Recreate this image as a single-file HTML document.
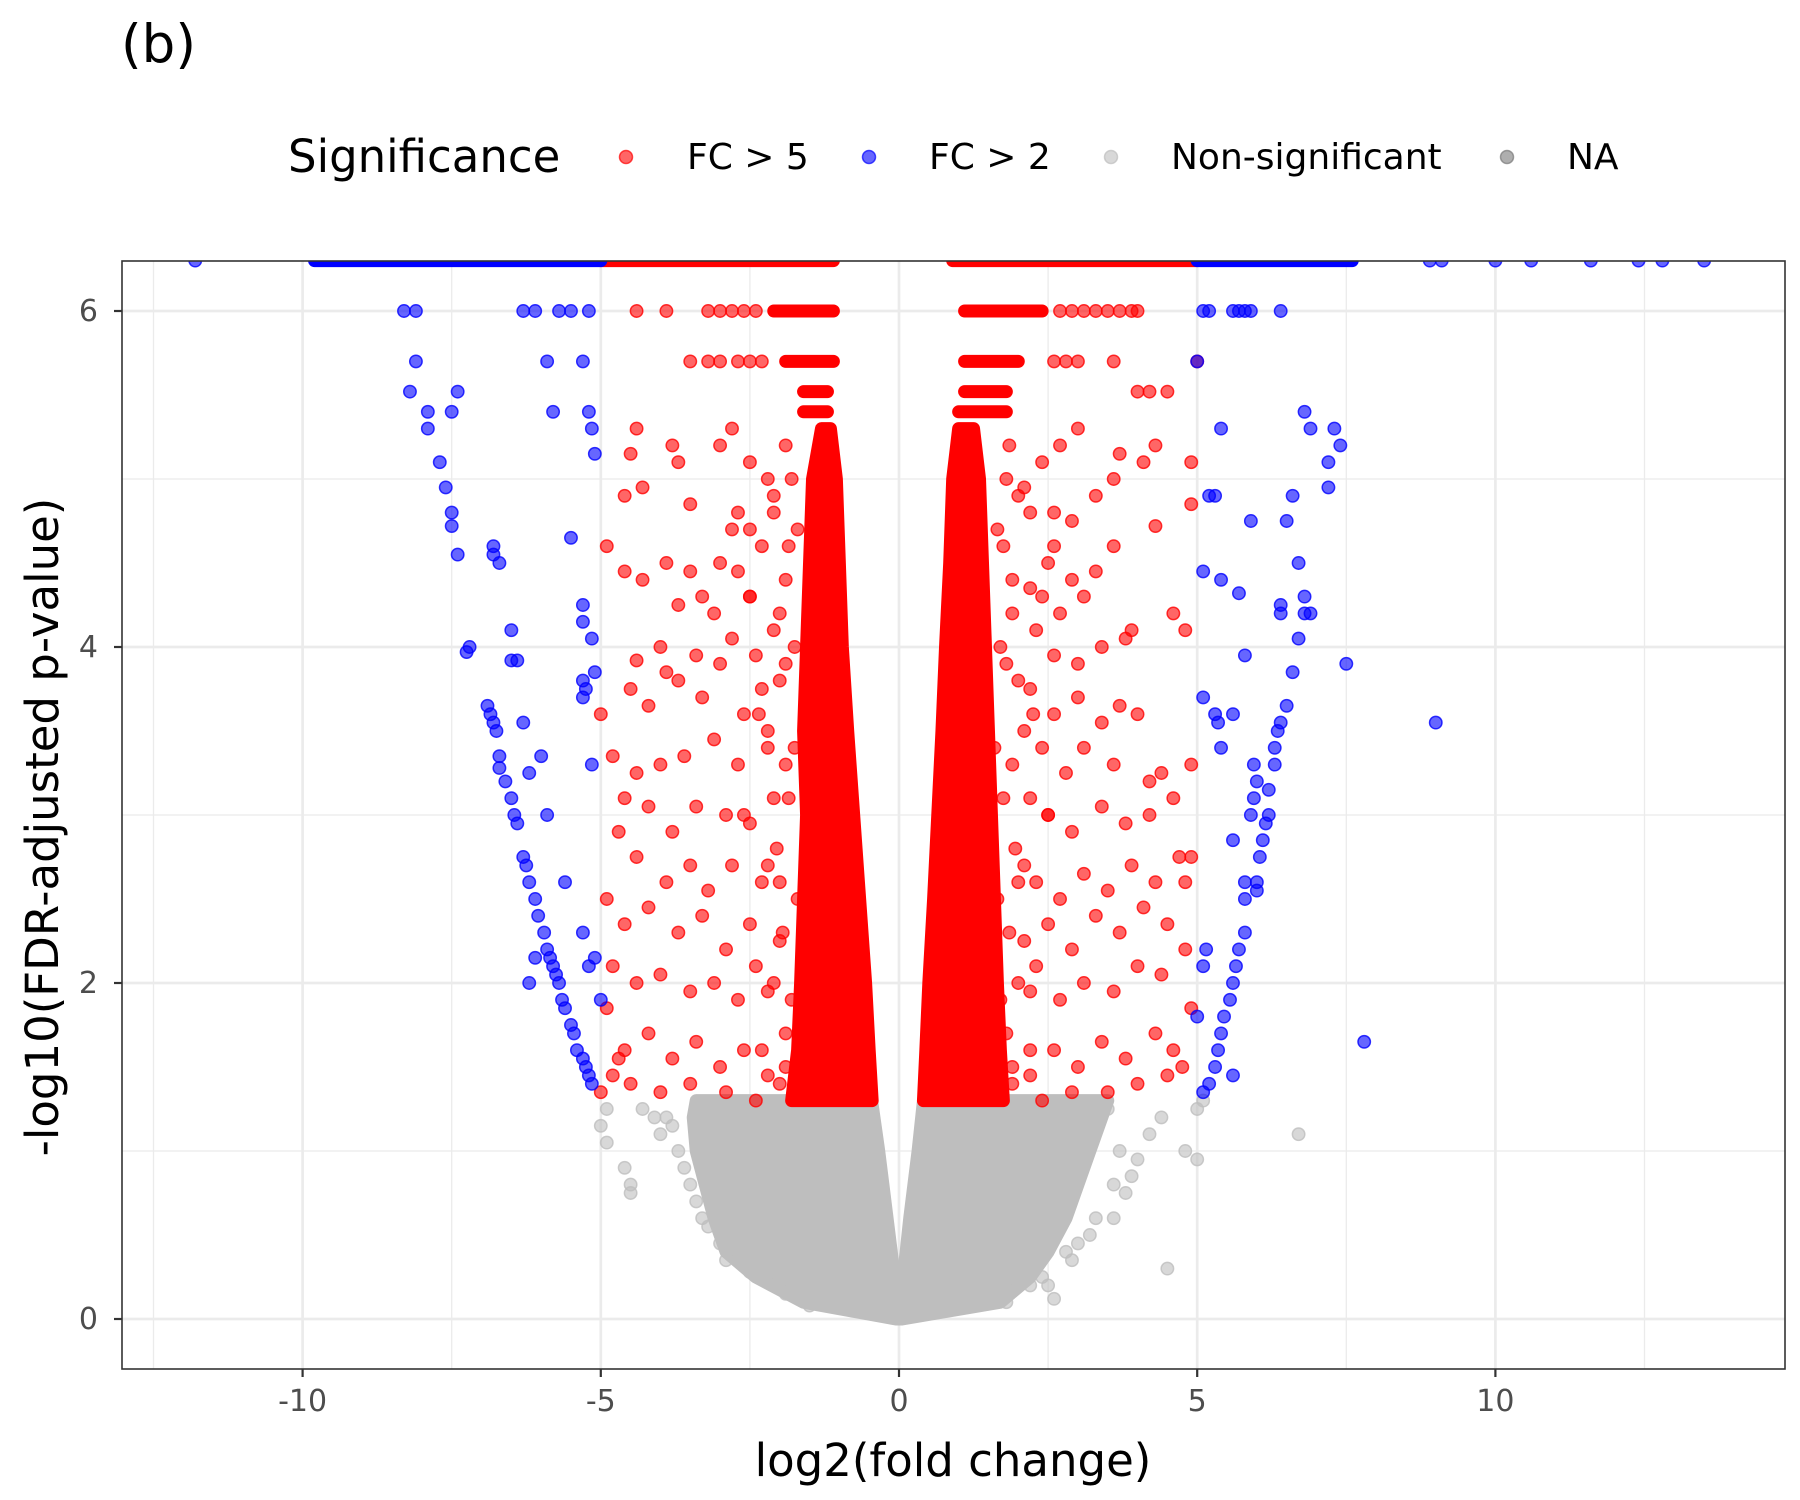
<!DOCTYPE html>
<html><head><meta charset="utf-8"><style>
html,body{margin:0;padding:0;background:#fff;}
svg{display:block;font-family:"DejaVu Sans","Liberation Sans",sans-serif;}
</style></head><body>
<svg id="chart" width="1800" height="1500" viewBox="0 0 1800 1500">
<text x="121" y="62" font-size="53" fill="#000">(b)</text>
<g>
<text x="288" y="172" font-size="45" fill="#000">Significance</text>
<circle cx="626" cy="157" r="6.5" fill="rgba(255,0,0,0.6)" stroke="rgba(255,0,0,0.7)" stroke-width="1.5"/>
<text x="687" y="169" font-size="36" fill="#000">FC &gt; 5</text>
<circle cx="869" cy="157" r="6.5" fill="rgba(0,0,255,0.6)" stroke="rgba(0,0,255,0.7)" stroke-width="1.5"/>
<text x="929" y="169" font-size="36" fill="#000">FC &gt; 2</text>
<circle cx="1111" cy="157" r="6.5" fill="rgba(190,190,190,0.6)" stroke="rgba(190,190,190,0.7)" stroke-width="1.5"/>
<text x="1171" y="169" font-size="36" fill="#000">Non-significant</text>
<circle cx="1507" cy="157" r="6.5" fill="rgba(120,120,120,0.6)" stroke="rgba(120,120,120,0.7)" stroke-width="1.5"/>
<text x="1567" y="169" font-size="36" fill="#000">NA</text>
</g>
<defs><clipPath id="pc"><rect x="122" y="261" width="1663" height="1108"/></clipPath></defs>
<g id="grid"></g>
<g id="marks" clip-path="url(#pc)"></g>
<rect x="122" y="261" width="1663" height="1108" fill="none" stroke="#333" stroke-width="1.6"/>
<g id="axes"></g>
<text x="953" y="1476" font-size="45" text-anchor="middle" fill="#000">log2(fold change)</text>
<text transform="translate(58,827) rotate(-90)" font-size="45" text-anchor="middle" fill="#000">-log10(FDR-adjusted p-value)</text>
</svg>
<script>
const xTicks=[-10,-5,0,5,10];
const xMinor=[-12.5,-7.5,-2.5,2.5,7.5,12.5];
const yTicks=[0,2,4,6];
const yMinor=[1,3,5];
// dense bands (envelopes)
const greyY=[0,0.1,0.25,0.4,0.6,0.8,1.0,1.2,1.3];
const greyLeftOuter=[-0.05,-1.6,-2.4,-2.9,-3.1,-3.25,-3.4,-3.45,-3.4];
const greyLeftInner=[0,-0.03,-0.08,-0.13,-0.2,-0.27,-0.34,-0.42,-0.46];
const greyRightOuter=[0.05,1.7,2.2,2.5,2.8,3.0,3.2,3.4,3.5];
const greyRightInner=[0,0.03,0.07,0.12,0.18,0.25,0.32,0.38,0.41];
const redBandY=[1.3,1.6,2,2.5,3,3.5,4,4.5,5,5.3];
const redLeftOuter=[-1.8,-1.7,-1.65,-1.6,-1.55,-1.6,-1.55,-1.5,-1.45,-1.3];
const redLeftInner=[-0.45,-0.5,-0.56,-0.66,-0.76,-0.86,-0.95,-1.0,-1.05,-1.15];
const redRightOuter=[1.75,1.7,1.65,1.6,1.55,1.5,1.45,1.4,1.35,1.25];
const redRightInner=[0.41,0.45,0.5,0.58,0.65,0.72,0.78,0.85,0.9,1.0];
// quantized rows
const redRowY=[6.3,6.0,5.7,5.52,5.4,6.3,6.0,5.7,5.52,5.4];
const redRowXmin=[-5,-2.1,-1.9,-1.6,-1.6,0.9,1.1,1.1,1.1,1.0];
const redRowXmax=[-1.1,-1.1,-1.1,-1.2,-1.2,5.0,2.4,2.0,1.8,1.8];
const blueRowY=[6.3,6.3];
const blueRowXmin=[-9.8,5.0];
const blueRowXmax=[-5.0,7.6];
const redX=[-4.4,-3.9,-3.2,-3.0,-2.8,-2.6,-2.4,-3.5,-3.2,-3.0,-2.7,-2.5,-2.3,2.7,2.9,3.1,3.3,3.5,3.7,3.9,4.0,2.6,2.8,3.0,3.6,4.0,4.2,4.5,5.0,
-4.4,-4.5,-3.8,-3.7,-3.5,-4.3,-4.6,-3.0,-2.8,-2.5,-2.2,-2.8,-2.5,-2.1,-4.9,-4.6,-4.3,-3.9,-3.5,-3.0,-2.7,-2.3,-3.3,-3.7,-3.1,-2.5,-4.0,-4.4,-3.9,-3.4,-3.0,-2.8,-2.4,-2.1,-4.5,-4.2,-3.7,-3.3,-2.6,-2.3,-5.0,-4.8,-4.4,-4.0,-3.6,-3.1,-2.7,-2.2,-4.6,-4.2,-3.8,-3.4,-2.9,-2.5,-2.1,-4.7,-4.4,-3.9,-3.5,-3.2,-2.8,-2.3,-4.9,-4.6,-4.2,-3.7,-3.3,-2.9,-2.5,-2.0,-4.8,-4.4,-4.0,-3.5,-3.1,-2.7,-2.2,-4.9,-4.6,-4.2,-3.8,-3.4,-3.0,-2.6,-2.2,-4.5,-4.0,-3.5,-2.9,-2.4,-1.9,-2.0,-1.9,-2.0,-1.9,-1.8,-5.0,-4.8,-4.7,
-2.0,-1.9,-2.1,-1.95,-2.05,-1.85,-2.2,-1.9,-2.0,-1.85,-2.1,-1.9,-1.75,-2.3,-2.4,-2.2,-2.6,-2.35,-2.5,-2.7,-1.8,-1.7,-1.75,-1.7,
4.3,4.1,3.7,3.6,3.3,4.9,4.9,3.0,2.7,2.4,2.1,2.9,2.6,2.2,4.3,3.6,3.3,2.9,2.5,2.2,3.1,2.7,3.9,3.8,3.4,3.0,2.6,2.3,4.0,3.7,3.4,3.0,2.6,2.2,4.9,4.4,4.2,3.6,3.1,2.8,2.4,4.6,4.2,3.8,3.4,2.9,2.5,2.2,4.7,4.3,3.9,3.5,3.1,2.7,2.3,4.8,4.5,4.1,3.7,3.3,2.9,2.5,2.1,4.8,4.4,4.0,3.6,3.1,2.7,2.2,4.9,4.6,4.3,3.8,3.4,3.0,2.6,2.2,4.5,4.0,3.5,2.9,2.4,1.9,2.0,1.9,2.0,1.9,1.8,4.75,4.9,4.6,4.8,
1.9,1.8,2.0,1.85,1.95,1.75,2.1,1.8,1.9,1.75,2.0,1.85,1.7,2.2,2.3,2.1,2.5,2.25,2.4,2.6,1.7,1.65,1.6,1.65];
const redY=[6.0,6.0,6.0,6.0,6.0,6.0,6.0,5.7,5.7,5.7,5.7,5.7,5.7,6.0,6.0,6.0,6.0,6.0,6.0,6.0,6.0,5.7,5.7,5.7,5.7,5.52,5.52,5.52,5.7,
5.3,5.15,5.2,5.1,4.85,4.95,4.9,5.2,5.3,5.1,5.0,4.7,4.7,4.8,4.6,4.45,4.4,4.5,4.45,4.5,4.45,4.6,4.3,4.25,4.2,4.3,4.0,3.92,3.85,3.95,3.9,4.05,3.95,4.1,3.75,3.65,3.8,3.7,3.6,3.75,3.6,3.35,3.25,3.3,3.35,3.45,3.3,3.4,3.1,3.05,2.9,3.05,3.0,2.95,3.1,2.9,2.75,2.6,2.7,2.55,2.7,2.6,2.5,2.35,2.45,2.3,2.4,2.2,2.35,2.25,2.1,2.0,2.05,1.95,2.0,1.9,1.95,1.85,1.6,1.7,1.55,1.65,1.5,1.6,1.45,1.4,1.35,1.4,1.35,1.3,1.5,2.6,3.3,3.8,4.4,5.0,1.35,1.45,1.55,
1.4,1.7,2.0,2.3,2.8,3.1,3.5,3.9,4.2,4.6,4.9,5.2,4.0,1.6,2.1,2.7,3.0,3.6,4.3,4.8,1.9,2.5,3.4,4.7,
5.2,5.1,5.15,5.0,4.9,5.1,4.85,5.3,5.2,5.1,4.95,4.75,4.6,4.8,4.72,4.6,4.45,4.4,4.5,4.35,4.3,4.2,4.1,4.05,4.0,3.9,3.95,4.1,3.6,3.65,3.55,3.7,3.6,3.75,3.3,3.25,3.2,3.3,3.4,3.25,3.4,3.1,3.0,2.95,3.05,2.9,3.0,3.1,2.75,2.6,2.7,2.55,2.65,2.5,2.6,2.6,2.35,2.45,2.3,2.4,2.2,2.35,2.25,2.2,2.05,2.1,1.95,2.0,1.9,1.95,1.85,1.6,1.7,1.55,1.65,1.5,1.6,1.45,1.45,1.4,1.35,1.35,1.3,1.5,2.6,3.3,3.8,4.4,5.0,1.5,2.75,4.2,4.1,
1.4,1.7,2.0,2.3,2.8,3.1,3.5,3.9,4.2,4.6,4.9,5.2,4.0,1.6,2.1,2.7,3.0,3.6,4.3,4.8,1.9,2.5,3.4,4.7];
const blueX=[-11.8,8.9,9.1,10.0,10.6,11.6,12.4,12.8,13.5,
-8.3,-8.1,-8.1,-8.2,-7.9,-7.9,-7.5,-7.4,-7.7,-7.6,-7.5,-7.5,-7.4,-6.8,-6.7,-6.8,-6.5,-6.5,-6.4,-7.2,-7.25,-6.9,-6.85,-6.8,-6.75,-6.7,-6.7,-6.6,-6.5,-6.45,-6.4,-6.3,-6.25,-6.2,-6.1,-6.05,-5.95,-5.9,-5.85,-5.8,-5.75,-5.7,-5.65,-5.6,-5.5,-5.45,-5.4,-5.3,-5.25,-5.2,-5.15,-6.2,-6.1,-6.0,-6.3,-6.2,-5.9,-5.6,-5.3,-5.2,-5.1,-5.0,-5.3,-5.3,-5.25,-5.3,-5.3,-5.15,-5.1,-5.15,-5.2,-5.15,-5.1,-5.3,-5.9,-5.8,-5.5,-6.3,-6.1,-5.7,-5.5,-5.2,
5.1,5.2,5.6,5.7,5.8,5.9,6.4,5.0,5.4,5.2,5.3,5.1,5.4,5.7,5.3,5.35,5.6,5.1,5.4,5.8,5.9,6.6,6.5,6.7,6.8,6.8,6.9,6.7,6.4,6.4,6.6,6.5,6.4,6.35,6.3,6.3,6.2,6.2,6.15,6.1,6.05,6.0,6.0,5.95,5.95,5.9,5.8,5.6,5.8,5.8,5.7,5.65,5.6,5.55,5.45,5.4,5.35,5.3,5.2,5.1,5.0,5.15,5.1,5.6,6.0,6.8,6.9,7.3,7.4,7.2,7.2,7.5,9.0,7.8];
const blueY=[6.3,6.3,6.3,6.3,6.3,6.3,6.3,6.3,6.3,
6.0,6.0,5.7,5.52,5.4,5.3,5.4,5.52,5.1,4.95,4.8,4.72,4.55,4.6,4.5,4.55,4.1,3.92,3.92,4.0,3.97,3.65,3.6,3.55,3.5,3.35,3.28,3.2,3.1,3.0,2.95,2.75,2.7,2.6,2.5,2.4,2.3,2.2,2.15,2.1,2.05,2.0,1.9,1.85,1.75,1.7,1.6,1.55,1.5,1.45,1.4,2.0,2.15,3.35,3.55,3.25,3.0,2.6,2.3,2.1,2.15,1.9,3.7,3.8,3.75,4.25,4.15,4.05,3.85,3.3,5.4,5.3,5.15,5.7,5.7,5.4,4.65,6.0,6.0,6.0,6.0,6.0,
6.0,6.0,6.0,6.0,6.0,6.0,6.0,5.7,5.3,4.9,4.9,4.45,4.4,4.32,3.6,3.55,3.6,3.7,3.4,3.95,4.75,4.9,4.75,4.5,4.3,4.2,4.2,4.05,4.25,4.2,3.85,3.65,3.55,3.5,3.4,3.3,3.15,3.0,2.95,2.85,2.75,2.6,3.2,3.3,3.1,3.0,2.6,2.85,2.5,2.3,2.2,2.1,2.0,1.9,1.8,1.7,1.6,1.5,1.4,1.35,1.8,2.2,2.1,1.45,2.55,5.4,5.3,5.3,5.2,5.1,4.95,3.9,3.55,1.65];
const greyX=[-4.9,-5.0,-4.9,-4.6,-4.5,-4.5,-4.3,-4.1,-3.9,-4.0,-3.5,-3.3,-3.0,-2.9,4.5,2.6,2.5,4.8,5.0,6.7,5.0,5.1,4.2,4.0,3.9,3.8,3.6,4.4,3.2,2.8,
-3.7,-3.6,-3.8,-3.4,-3.2,-2.7,-2.5,-1.9,-1.5,1.8,2.2,2.4,2.9,3.0,3.3,3.6,3.7,3.5];
const greyY2=[1.25,1.15,1.05,0.9,0.8,0.75,1.25,1.2,1.2,1.1,0.8,0.6,0.45,0.35,0.3,0.12,0.2,1.0,0.95,1.1,1.25,1.3,1.1,0.95,0.85,0.75,0.6,1.2,0.5,0.4,
1.0,0.9,1.15,0.7,0.55,0.35,0.28,0.15,0.08,0.1,0.2,0.25,0.35,0.45,0.6,0.8,1.0,1.25];

const X0=899,XS=59.64,Y0=1319,YS=168;
const sx=v=>X0+v*XS, sy=v=>Y0-v*YS;
const NS='http://www.w3.org/2000/svg';
const grid=document.getElementById('grid'),marks=document.getElementById('marks'),axes=document.getElementById('axes');
function mk(tag,attrs,parent){const e=document.createElementNS(NS,tag);for(const k in attrs)e.setAttribute(k,attrs[k]);parent.appendChild(e);return e;}
xMinor.forEach(v=>{const l=mk('line',{x1:sx(v),x2:sx(v),y1:261,y2:1369,stroke:'#ebebeb','stroke-width':1.3},grid);

});
yMinor.forEach(v=>{const l=mk('line',{x1:122,x2:1785,y1:sy(v),y2:sy(v),stroke:'#ebebeb','stroke-width':1.3},grid);

});
xTicks.forEach(v=>{const l=mk('line',{x1:sx(v),x2:sx(v),y1:261,y2:1369,stroke:'#ebebeb','stroke-width':2.7},grid);


const t=mk('line',{x1:sx(v),x2:sx(v),y1:1369,y2:1377,stroke:'#333','stroke-width':2.2},axes);


const tx=mk('text',{x:sx(v),y:1411,'font-size':30,'text-anchor':'middle',fill:'#4d4d4d'},axes);tx.textContent=String(v);

});
yTicks.forEach(v=>{const l=mk('line',{x1:122,x2:1785,y1:sy(v),y2:sy(v),stroke:'#ebebeb','stroke-width':2.7},grid);


const t=mk('line',{x1:114,x2:122,y1:sy(v),y2:sy(v),stroke:'#333','stroke-width':2.2},axes);


const tx=mk('text',{x:98,y:sy(v)+10,'font-size':30,'text-anchor':'end',fill:'#4d4d4d'},axes);tx.textContent=v;

});
function band(ys,outer,inner,col,name){let pts=[];ys.forEach((y,i)=>pts.push(sx(outer[i])+','+sy(y)));for(let i=ys.length-1;i>=0;i--)pts.push(sx(inner[i])+','+sy(ys[i]));
const p=mk('polygon',{points:pts.join(' '),fill:col,stroke:col,'stroke-width':13,'stroke-linejoin':'round'},marks);

}
band(greyY,greyLeftOuter,greyLeftInner,'#bebebe','nonsig-dense-left');
band(greyY,greyRightOuter,greyRightInner,'#bebebe','nonsig-dense-right');
function pts(xs,ys,fill,stroke,name){xs.forEach((x,i)=>{const c=mk('circle',{cx:sx(x),cy:sy(ys[i]),r:6.2,fill:fill,stroke:stroke,'stroke-width':1.5},marks);

});}
pts(greyX,greyY2,'rgba(190,190,190,0.6)','rgba(190,190,190,0.8)','nonsig-point');
band(redBandY,redLeftOuter,redLeftInner,'#ff0000','fc5-dense-left');
band(redBandY,redRightOuter,redRightInner,'#ff0000','fc5-dense-right');
function rows(ys,a,b,col,name){ys.forEach((y,i)=>{const l=mk('line',{x1:sx(a[i]),x2:sx(b[i]),y1:sy(y),y2:sy(y),stroke:col,'stroke-width':13,'stroke-linecap':'round'},marks);

});}
rows(redRowY,redRowXmin,redRowXmax,'#ff0000','fc5-row');
rows(blueRowY,blueRowXmin,blueRowXmax,'#0000ff','fc2-row');
pts(redX,redY,'rgba(255,0,0,0.6)','rgba(255,0,0,0.8)','fc5-point');
pts(blueX,blueY,'rgba(0,0,255,0.6)','rgba(0,0,255,0.8)','fc2-point');
</script>
</body></html>
